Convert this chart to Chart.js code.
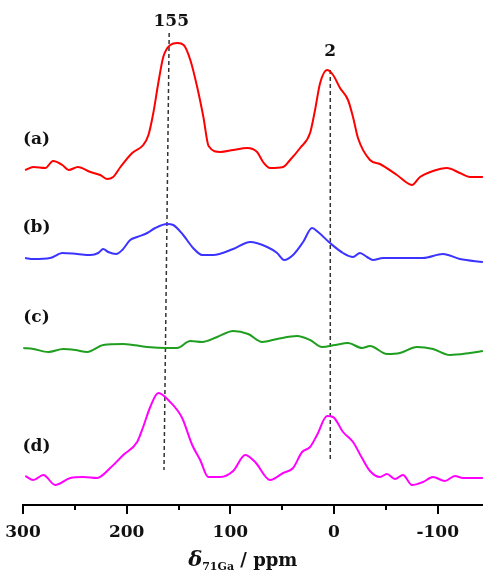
<!DOCTYPE html>
<html>
<head>
<meta charset="utf-8">
<script src="https://cdn.jsdelivr.net/npm/chart.js@4/dist/chart.umd.min.js"></script>
<style>
  html, body { margin: 0; padding: 0; background: #fff; }
  canvas { display: block; }
</style>
</head>
<body>
<canvas id="chart" width="483" height="574"></canvas>
<script>
// chemical shift (ppm) and intensity, relative to its own baseline
const ppmA = [298, 290, 278.5, 271, 262, 256, 247, 235, 225.5, 219, 213, 206, 194.7, 184, 179, 174.3, 169.5, 164.7, 158, 151, 145, 138.6, 132, 126, 121, 109.6, 97.3, 83.8, 74.2, 68.4, 61.6, 49.1, 42.4, 32.7, 23.1, 18.3, 13.4, 6.7, 0.9, -5.8, -13.5, -18.3, -23.1, -34.7, -44.3, -60.7, -75.2, -82.9, -95.4, -108.9, -121.4, -131.1, -143.6];
const intA = [0, 3, 2, 9, 5, 0, 3, -2, -5, -9, -7, 3, 17, 25, 35, 57, 87, 113, 125, 127, 125, 110, 83, 53, 24, 18, 20, 22, 18, 8, 2, 3, 10, 22, 37, 60, 87, 100, 95, 82, 70, 53, 32, 10, 6, -5, -15, -7, -1, 2, -3, -7, -7];

const ppmB = [298, 290, 273.7, 262, 247.7, 235, 227.4, 222.6, 217.8, 210.1, 204.3, 196.6, 189.9, 180.2, 172.5, 161, 155.1, 145.5, 135.9, 127.2, 116.6, 97.3, 80.9, 64.5, 54.9, 48.2, 39.5, 29.8, 21.2, 15.4, 3.9, -8.7, -18.3, -25, -31.8, -37.6, -47.2, -66.5, -85.8, -105.1, -121.4, -143.6];
const intB = [0, -1, 0, 5, 4, 3, 5, 9, 6, 4, 8, 18, 21, 25, 30, 34, 33, 23, 10, 3, 3, 9, 16, 11, 5, -2, 3, 16, 30, 26, 15, 5, 1, 5, 1, -2, 0, 0, 0, 4, -1, -4];

const ppmC = [299.7, 290, 275.6, 261.2, 249.6, 238, 222.6, 203.3, 180.2, 161, 151.4, 138.6, 127.2, 112.7, 97.3, 82.8, 69.3, 54.9, 35.6, 23.1, 11.5, -1, -13.5, -27, -34.7, -51.1, -63.6, -80, -95.4, -111.8, -131.1, -143.6];
const intC = [0, -1, -4, -1, -2, -4, 3, 4, 1, 0, 0, 7, 6, 11, 17, 14, 6, 9, 12, 8, 1, 3, 5, 0, 2, -6, -5, 1, -1, -7, -5, -3];

const ppmD = [297.8, 290, 280.4, 268.9, 254.4, 241.9, 228.4, 215.9, 203.3, 189.9, 184.1, 177.3, 169.5, 158, 146.5, 136.8, 129.1, 121.4, 109.8, 97.3, 85.7, 76.1, 61.6, 49.1, 39.5, 30.8, 23.1, 16.4, 6.7, 0.9, -8.7, -18.3, -27, -34.7, -44.3, -51.1, -58.8, -66.5, -75.2, -85.8, -95.4, -107, -116.6, -124.3, -143.6];
const intD = [1, -3, 2, -8, -1, 0, -1, 9, 22, 35, 50, 70, 84, 75, 59, 32, 17, 0, 0, 6, 22, 15, -3, 4, 9, 25, 30, 42, 61, 60, 45, 35, 19, 6, 0, 3, -2, 2, -8, -5, 0, -4, 1, -1, -1];

// vertical offsets of the stacked traces
const offsets = [335, 247, 157, 28];
const traceLabels = ['(a)', '(b)', '(c)', '(d)'];
const colors = ['#ff0000', '#3b33ff', '#1f9f1f', '#ff00ff'];

// dashed guide lines: [ppm top, y top, ppm bottom, y bottom]
const guideA = [159, 472, 164, 35];
const guideB = [3.6, 435, 3.6, 43];
const peakLabels = ['155', '2'];

const X_MIN = -143.7, X_MAX = 300;

function toPoints(ppm, ints, off) {
  return ppm.map((p, i) => ({ x: p, y: off + ints[i] }));
}

function trace(ppm, ints, i) {
  return {
    data: toPoints(ppm, ints, offsets[i]),
    borderColor: colors[i],
    borderWidth: 2,
    pointRadius: 0,
    cubicInterpolationMode: 'monotone',
    fill: false
  };
}

function guide(g) {
  return {
    data: [{ x: g[0], y: g[1] }, { x: g[2], y: g[3] }],
    borderColor: '#333',
    borderWidth: 1.5,
    borderDash: [4, 3],
    pointRadius: 0,
    tension: 0
  };
}

const extras = {
  id: 'extras',
  afterDraw(chart) {
    const ctx = chart.ctx;
    const xs = chart.scales.x, ys = chart.scales.y;
    const bottom = chart.chartArea.bottom;

    // tick marks, long on labelled ticks
    ctx.save();
    ctx.strokeStyle = '#000';
    ctx.lineWidth = 2;
    xs.ticks.forEach(t => {
      const px = Math.round(xs.getPixelForValue(t.value));
      const len = t.value % 100 === 0 ? 9 : 5;
      ctx.beginPath();
      ctx.moveTo(px, bottom);
      ctx.lineTo(px, bottom + len);
      ctx.stroke();
    });
    ctx.restore();

    ctx.save();
    ctx.fillStyle = '#111';
    ctx.textAlign = 'center';
    ctx.textBaseline = 'middle';
    ctx.font = 'bold 17px "DejaVu Serif"';
    traceLabels.forEach((lab, i) => {
      ctx.fillText(lab, xs.getPixelForValue(287), ys.getPixelForValue(offsets[i] + 30));
    });
    ctx.fillText(peakLabels[0], xs.getPixelForValue(157), ys.getPixelForValue(guideA[1] + 11));
    ctx.fillText(peakLabels[1], xs.getPixelForValue(guideB[0]), ys.getPixelForValue(guideB[1] + 18));

    // axis title: italic delta, subscript 71Ga, then "/ ppm"
    const parts = [
      { t: '\u03B4', f: 'italic bold 21px "DejaVu Serif"', dy: 0 },
      { t: '71Ga', f: 'bold 11px "DejaVu Serif"', dy: 4 },
      { t: ' / ppm', f: 'bold 18px "DejaVu Serif"', dy: 0 }
    ];
    let total = 0;
    parts.forEach(p => { ctx.font = p.f; p.w = ctx.measureText(p.t).width; total += p.w; });
    let x = xs.getPixelForValue(88) - total / 2;
    const base = 566;
    ctx.textAlign = 'left';
    ctx.textBaseline = 'alphabetic';
    parts.forEach(p => {
      ctx.font = p.f;
      ctx.fillText(p.t, x, base + p.dy);
      x += p.w;
    });
    ctx.restore();
  }
};

new Chart(document.getElementById('chart'), {
  type: 'line',
  data: {
    datasets: [
      trace(ppmA, intA, 0),
      trace(ppmB, intB, 1),
      trace(ppmC, intC, 2),
      trace(ppmD, intD, 3),
      guide(guideA),
      guide(guideB)
    ]
  },
  options: {
    responsive: false,
    animation: false,
    devicePixelRatio: 1,
    layout: { padding: { left: 23, right: 0, top: 0, bottom: 0 } },
    plugins: { legend: { display: false }, tooltip: { enabled: false } },
    scales: {
      x: {
        type: 'linear',
        reverse: true,
        min: X_MIN,
        max: X_MAX,
        afterFit(scale) {
          scale.height = 69;
          scale.paddingLeft = 0;
          scale.paddingRight = 0;
        },
        border: { display: true, color: '#000', width: 2 },
        grid: { display: false, drawTicks: false },
        ticks: {
          stepSize: 50,
          includeBounds: false,
          maxRotation: 0,
          autoSkip: false,
          padding: 17,
          color: '#111',
          font: { family: 'DejaVu Serif', size: 17, weight: 'bold' },
          callback: v => (v % 100 === 0 ? String(v) : '')
        }
      },
      y: {
        display: false,
        min: 0,
        max: 505
      }
    }
  },
  plugins: [extras]
});
</script>
</body>
</html>
